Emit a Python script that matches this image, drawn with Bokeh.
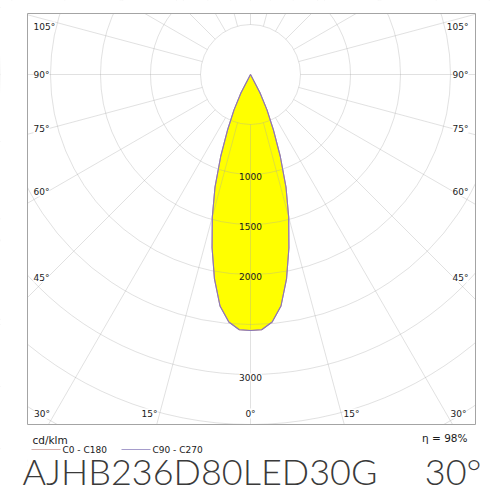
import numpy as np
from bokeh.plotting import figure
from bokeh.models import Range1d
from bokeh.core.properties import value
from bokeh.embed import file_html
from bokeh.resources import INLINE

# ---------------- data ----------------
gamma_deg = [0, 2.5, 5, 7.5, 10, 12.5, 15, 17.5, 20, 22.5, 25, 27.5, 30,
             35, 40, 45, 50, 55, 60, 65, 70, 75, 80, 85, 90]
c0_c180 = [2560, 2555, 2485, 2335, 2075, 1775, 1475, 1180, 870, 595, 390, 205, 0,
           0, 0, 0, 0, 0, 0, 0, 0, 0, 0, 0, 0]
c90_c270 = [2560, 2555, 2485, 2335, 2075, 1775, 1475, 1180, 870, 595, 390, 205, 0,
            0, 0, 0, 0, 0, 0, 0, 0, 0, 0, 0, 0]
series_names = ["C0 - C180", "C90 - C270"]
series_colors = ["#d8b2ae", "#a59ccb"]
outline_colors = ["#c89890", "#8a78b8"]
ring_values = [500, 1000, 1500, 2000, 2500, 3000, 3500, 4000, 4500]
ring_labels = [1000, 1500, 2000, 3000]
side_angles = [105, 90, 75, 60, 45]
bottom_angles = [30, 15, 0, 15, 30]
spoke_step = 15
unit_label = "cd/klm"
efficiency_label = "\u03b7 = 98%"
product_code = "AJHB236D80LED30G"
beam_label = "30\u00b0"

# ---------------- layout helpers (page px -> data) ----------------
W = H = 500
S = 10.0          # cd per pixel
CX, CY = 250, 74  # page position of the polar centre
def X(px):
    return (px - CX) * S
def Y(py):
    return -(py - CY) * S

FL, FR, FT, FB = 27, 475, 13, 424  # frame box in page px

p = figure(width=W, height=H, x_range=Range1d(X(0), X(W)),
           y_range=Range1d(Y(H), Y(0)), min_border=0,
           toolbar_location=None, output_backend="svg",
           x_axis_type=None, y_axis_type=None)
p.outline_line_color = None
p.grid.visible = False
p.background_fill_color = "white"
p.border_fill_color = "white"

g = np.radians(gamma_deg)

def polar_outline(intens):
    I = np.array(intens, dtype=float)
    xr = I * np.sin(g)
    yr = -I * np.cos(g)
    xs = np.concatenate([-xr[::-1], xr[1:]])
    ys = np.concatenate([yr[::-1], yr[1:]])
    return xs, ys

x0, y0 = polar_outline(c0_c180)
x90, y90 = polar_outline(c90_c270)

# yellow fill
p.patch(x90, y90, fill_color="#ffff00", line_color=None)

# grid rings and spokes
grid_col = "#a8a8a8"
grid_alpha = 0.34
p.circle(x=[0] * len(ring_values), y=[0] * len(ring_values), radius=ring_values,
         fill_color=None, line_color=grid_col, line_alpha=grid_alpha, line_width=1)
spokes = np.radians(np.arange(0, 360, spoke_step))
r_in, r_out = ring_values[0], 8000
p.segment(x0=r_in * np.sin(spokes), y0=-r_in * np.cos(spokes),
          x1=r_out * np.sin(spokes), y1=-r_out * np.cos(spokes),
          line_color=grid_col, line_alpha=grid_alpha, line_width=1)

# curves
p.line(x0, y0, line_color=outline_colors[0], line_width=1.1)
p.line(x90, y90, line_color=outline_colors[1], line_width=1.1)

lab_font = value("DejaVu Sans")

# ring labels
inner = [v for v in ring_labels if v < 2600]
outer = [v for v in ring_labels if v >= 2600]
p.text(x=[0] * len(inner), y=[-v - 15 for v in inner], text=[str(v) for v in inner],
       text_font=lab_font, text_font_size="9px", text_color="#1a1a1a",
       text_align="center", text_baseline="middle")
p.text(x=[0] * len(outer), y=[-v - 25 for v in outer], text=[str(v) for v in outer],
       text_font=lab_font, text_font_size="9px", text_color="#1a1a1a",
       text_align="center", text_baseline="middle",
       background_fill_color="white")

# white masks outside frame
big = 1e5
p.quad(left=[-big, X(FR), X(FL), X(FL)], right=[X(FL), big, X(FR), X(FR)],
       top=[big, big, big, Y(FB)], bottom=[-big, -big, Y(FT), -big],
       fill_color="white", line_color=None)
# frame border
p.quad(left=[X(FL)], right=[X(FR)], top=[Y(FT)], bottom=[Y(FB)],
       fill_color=None, line_color="#a4a4a4", line_width=1)

# angle labels
side_y = [26, 74, 128, 191, 277]
p.text(x=[X(33)] * len(side_angles), y=[Y(v) for v in side_y],
       text=[f"{a}\u00b0" for a in side_angles], text_font=lab_font,
       text_font_size="9px", text_color="#1a1a1a", text_align="left",
       text_baseline="middle", background_fill_color="white")
p.text(x=[X(468)] * len(side_angles), y=[Y(v) for v in side_y],
       text=[f"{a}\u00b0" for a in side_angles], text_font=lab_font,
       text_font_size="9px", text_color="#1a1a1a", text_align="right",
       text_baseline="middle", background_fill_color="white")
bottom_x = [41.5, 149, 250, 351, 458]
p.text(x=[X(v) for v in bottom_x], y=[Y(413)] * len(bottom_angles),
       text=[f"{a}\u00b0" for a in bottom_angles], text_font=lab_font,
       text_font_size="9px", text_color="#1a1a1a", text_align="center",
       text_baseline="middle", background_fill_color="white")

# unit + efficiency
p.text(x=[X(32)], y=[Y(439)], text=[unit_label], text_font=lab_font,
       text_font_size="10.5px", text_color="#1a1a1a", text_align="left",
       text_baseline="middle")
p.text(x=[X(467)], y=[Y(437)], text=[efficiency_label], text_font=lab_font,
       text_font_size="10.5px", text_color="#1a1a1a", text_align="right",
       text_baseline="middle")

# legend
leg_x = [31, 121]
for i, name in enumerate(series_names):
    p.segment(x0=[X(leg_x[i])], y0=[Y(449)], x1=[X(leg_x[i] + 29)], y1=[Y(449)],
              line_color=series_colors[i], line_width=1.2)
    p.text(x=[X(leg_x[i] + 31)], y=[Y(449.5)], text=[name], text_font=lab_font,
           text_font_size="9px", text_color="#1a1a1a", text_align="left",
           text_baseline="middle")

# title
title_font = value("Lato Light")
p.text(x=[X(22)], y=[Y(470)], text=[product_code], text_font=title_font,
       text_font_size="36px", text_color="#3a3a3a", text_align="left",
       text_baseline="middle")
p.text(x=[X(481)], y=[Y(470)], text=[beam_label], text_font=title_font,
       text_font_size="36px", text_color="#3a3a3a", text_align="right",
       text_baseline="middle")

open("out.html", "w").write(file_html(p, INLINE))
